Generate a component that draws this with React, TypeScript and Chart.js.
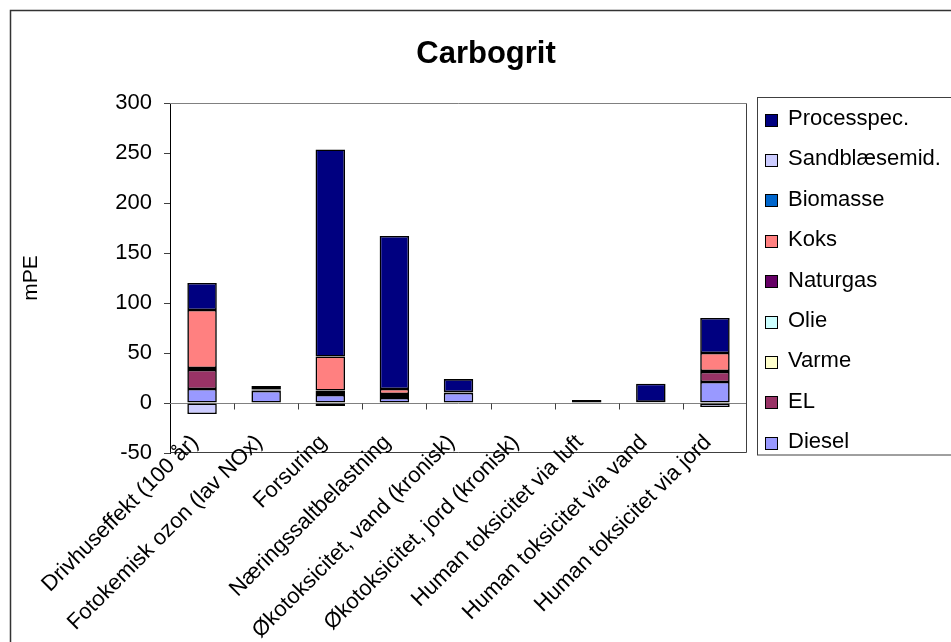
import React, { useEffect, useRef } from "react";
import { Chart, registerables } from "chart.js";

Chart.register(...registerables);

const TITLE = "Carbogrit";
const Y_TITLE = "mPE";
const FONT = "'Liberation Sans', Arial, sans-serif";

const categories = [
  "Drivhuseffekt (100 år)",
  "Fotokemisk ozon (lav NOx)",
  "Forsuring",
  "Næringssaltbelastning",
  "Økotoksicitet, vand (kronisk)",
  "Økotoksicitet, jord (kronisk)",
  "Human toksicitet via luft",
  "Human toksicitet via vand",
  "Human toksicitet via jord",
];

const diesel = [14, 12, 8, 5, 10, 0, 1, 0.8, 21];
const el = [19, 0.5, 3, 2, 0.3, 0, 0, 0.3, 10];
const varme = [0, 0, 0, 0, 0, 0, 0, 0, 0];
const olie = [0, 0, 0, 0, 0, 0, 0, 0, 0];
const naturgas = [2, 1, 1.5, 2, 0.3, 0, 0, 0, 1];
const koks = [58, 0.5, 34, 5, 0.3, 0, 0, 0, 18];
const biomasse = [0, 0, 0, 0, 0, 0, 0, 0, 0];
const sandblaesemid = [-11, 0, -3, 0, 0, 0, 0, 0, -4];
const processpec = [27, 3, 207, 153, 13, 0, 2, 18.2, 35];

const Y_MIN = -50;
const Y_MAX = 300;
const Y_STEP = 50;

const series = [
  { label: "Diesel", data: diesel, color: "#9999FF" },
  { label: "EL", data: el, color: "#993366" },
  { label: "Varme", data: varme, color: "#FFFFCC" },
  { label: "Olie", data: olie, color: "#CCFFFF" },
  { label: "Naturgas", data: naturgas, color: "#660066" },
  { label: "Koks", data: koks, color: "#FF8080" },
  { label: "Biomasse", data: biomasse, color: "#0066CC" },
  { label: "Sandblæsemid.", data: sandblaesemid, color: "#CCCCFF" },
  { label: "Processpec.", data: processpec, color: "#000080" },
];

const decor = {
  id: "decor",
  beforeDraw(chart: any) {
    const ctx = chart.ctx;
    ctx.save();
    ctx.fillStyle = "#ffffff";
    ctx.fillRect(0, 0, chart.width, chart.height);
    ctx.restore();
  },
  beforeDatasetsDraw(chart: any) {
    const { ctx, chartArea: a, scales } = chart;
    const y0 = Math.round(scales.y.getPixelForValue(0)) + 0.5;
    ctx.save();
    ctx.strokeStyle = "#808080";
    ctx.lineWidth = 1;
    ctx.beginPath();
    ctx.moveTo(a.left, y0);
    ctx.lineTo(a.right, y0);
    ctx.stroke();
    ctx.restore();
  },
  afterDatasetsDraw(chart: any) {
    const { ctx, chartArea: a, scales } = chart;
    const x = scales.x;
    const y0 = Math.round(scales.y.getPixelForValue(0)) + 0.5;
    ctx.save();
    ctx.lineWidth = 1;
    // category boundary ticks on the zero line
    ctx.strokeStyle = "#404040";
    ctx.beginPath();
    for (let i = 1; i < categories.length; i++) {
      const px = Math.round(x.getPixelForValue(i - 0.5)) + 0.5;
      ctx.moveTo(px, y0);
      ctx.lineTo(px, y0 + 6);
    }
    ctx.stroke();
    // plot area border (top, right, bottom)
    const t = Math.round(a.top) + 0.5;
    const b = Math.round(a.bottom) - 0.5;
    const r = Math.round(a.right) - 0.5;
    ctx.strokeStyle = "#808080";
    ctx.beginPath();
    ctx.moveTo(a.left, t);
    ctx.lineTo(r, t);
    ctx.stroke();
    ctx.strokeStyle = "#404040";
    ctx.beginPath();
    ctx.moveTo(r, t);
    ctx.lineTo(r, b);
    ctx.lineTo(a.left, b);
    ctx.stroke();
    ctx.restore();
  },
  afterDraw(chart: any) {
    const ctx = chart.ctx;
    const x = chart.scales.x;
    const a = chart.chartArea;
    ctx.save();
    // outer border
    ctx.strokeStyle = "#333333";
    ctx.lineWidth = 1.5;
    ctx.strokeRect(10.5, 10.5, 2000, 2000);
    // title
    ctx.fillStyle = "#000";
    ctx.font = `bold 31px ${FONT}`;
    ctx.textAlign = "center";
    ctx.textBaseline = "alphabetic";
    ctx.fillText(TITLE, 486, 63);
    // rotated category labels
    ctx.font = `22px ${FONT}`;
    ctx.textAlign = "right";
    ctx.textBaseline = "middle";
    (chart.data.labels as string[]).forEach((lab, i) => {
      const px = x.getPixelForValue(i);
      ctx.save();
      ctx.translate(px - 7, a.bottom - 14);
      ctx.rotate(-Math.PI / 4);
      ctx.fillText(lab, 0, 0);
      ctx.restore();
    });
    // legend
    ctx.lineWidth = 1;
    ctx.strokeStyle = "#404040";
    ctx.strokeRect(757.5, 97.5, 400, 357.5);
    const items = chart.data.datasets.slice().reverse();
    ctx.font = `22px ${FONT}`;
    ctx.textAlign = "left";
    ctx.textBaseline = "alphabetic";
    items.forEach((ds: any, i: number) => {
      const cy = 119.5 + i * 40.4;
      ctx.fillStyle = ds.backgroundColor;
      ctx.fillRect(765, Math.round(cy - 6), 13, 13);
      ctx.strokeStyle = "#000";
      ctx.strokeRect(765.5, Math.round(cy - 6) + 0.5, 12, 12);
      ctx.fillStyle = "#000";
      ctx.fillText(ds.label, 788, cy + 5.5);
    });
    ctx.restore();
  },
};

export default function App() {
  const ref = useRef<HTMLCanvasElement>(null);
  useEffect(() => {
    Chart.defaults.font.family = FONT;
    const chart = new Chart(ref.current!, {
      type: "bar",
      data: {
        labels: categories,
        datasets: series.map((s) => ({
          label: s.label,
          data: s.data,
          backgroundColor: s.color,
          borderColor: "#000000",
          borderWidth: 1.6,
          borderSkipped: false,
          categoryPercentage: 1,
          barPercentage: 0.46,
        })),
      },
      options: {
        responsive: false,
        devicePixelRatio: 1,
        animation: false,
        layout: { padding: { top: 103, right: 204, left: 0, bottom: 0 } },
        plugins: {
          legend: { display: false },
          title: { display: false },
          tooltip: { enabled: false },
        },
        scales: {
          x: {
            stacked: true,
            grid: { display: false },
            border: { display: false },
            ticks: { display: false },
            afterFit: (scale: any) => {
              scale.height = 189;
            },
          },
          y: {
            stacked: true,
            min: Y_MIN,
            max: Y_MAX,
            grid: {
              drawOnChartArea: false,
              drawTicks: true,
              tickLength: 6,
              tickColor: "#404040",
            },
            border: { display: true, color: "#000", width: 1 },
            ticks: {
              stepSize: Y_STEP,
              padding: 12,
              color: "#000",
              font: { size: 22, family: FONT },
            },
            title: {
              display: true,
              text: Y_TITLE,
              color: "#000",
              font: { size: 21, family: FONT },
              padding: { top: 19, bottom: 0 },
            },
            afterFit: (scale: any) => {
              scale.width = 170;
            },
          },
        },
      },
      plugins: [decor],
    });
    return () => chart.destroy();
  }, []);
  return (
    <canvas
      ref={ref}
      width={951}
      height={642}
      style={{ position: "absolute", left: 0, top: 0, width: 951, height: 642 }}
    />
  );
}
